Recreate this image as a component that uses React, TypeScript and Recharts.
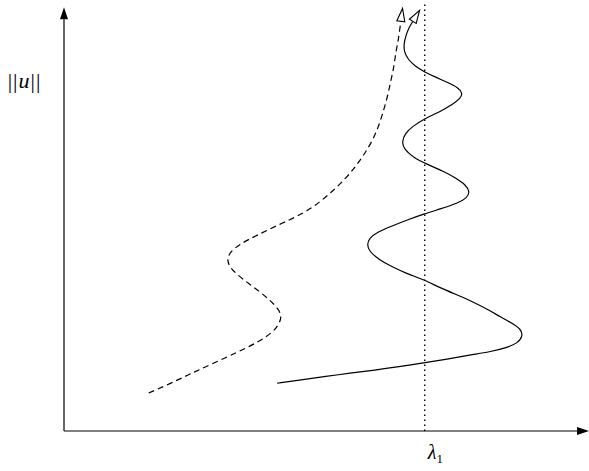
import React from 'react';
import { LineChart, Line, XAxis, YAxis, ReferenceLine } from 'recharts';

// parameter value where the vertical dotted line sits
const lambda1 = 6.94;

// solid branch, read from bottom to top
const solidLambda = [
    4.1, 4.56, 5.04, 5.5, 5.98, 6.44, 6.92, 7.37, 7.81, 8.19, 8.52, 8.73, 8.83, 8.79,
    8.62, 8.38, 8.19, 7.81, 7.52, 7.23, 6.92, 6.62, 6.31, 6.04, 5.87, 5.83, 5.87,
    6.02, 6.31, 6.62, 6.92, 7.23, 7.58, 7.75, 7.81, 7.73, 7.54, 7.29, 6.98, 6.71, 6.54,
    6.5, 6.56, 6.71, 6.94, 7.23, 7.48, 7.63, 7.67, 7.58, 7.37, 7.15, 6.94, 6.75, 6.62,
    6.54, 6.54, 6.58, 6.63, 6.71,
];
const solidNorm = [
    1.13, 1.21, 1.29, 1.37, 1.44, 1.52, 1.61, 1.7, 1.8, 1.87, 1.97, 2.08, 2.25, 2.41,
    2.55, 2.71, 2.85, 3.09, 3.24, 3.39, 3.58, 3.71, 3.88, 4.07, 4.26, 4.4, 4.56,
    4.7, 4.85, 5.0, 5.13, 5.25, 5.39, 5.51, 5.66, 5.82, 5.98, 6.15, 6.31, 6.48, 6.67,
    6.84, 7.04, 7.21, 7.39, 7.55, 7.73, 7.87, 7.99, 8.13, 8.25, 8.37, 8.49, 8.63, 8.79,
    8.97, 9.17, 9.36, 9.53, 9.69,
];

// dashed branch
const dashedLambda = [
    1.63, 2.06, 2.46, 2.87, 3.35, 3.73, 4.0, 4.13, 4.19, 4.13, 3.96, 3.73, 3.44, 3.21,
    3.13, 3.19, 3.38, 3.71, 4.15, 4.6, 4.92, 5.19, 5.44, 5.63, 5.79, 5.94, 6.06, 6.15,
    6.23, 6.29, 6.35, 6.38, 6.42, 6.45, 6.48,
];
const dashedNorm = [
    0.9, 1.13, 1.37, 1.6, 1.87, 2.1, 2.32, 2.51, 2.7, 2.88, 3.1, 3.33, 3.59, 3.83,
    4.04, 4.23, 4.42, 4.63, 4.89, 5.14, 5.41, 5.7, 6.0, 6.29, 6.57, 6.88, 7.23, 7.59,
    7.94, 8.3, 8.63, 8.94, 9.17, 9.41, 9.69,
];

const axisEnd = { x: 9.87, y: 9.74 };

const toPoints = (xs: number[], ys: number[]) => xs.map((x, i) => ({ x, y: ys[i] }));

const solidData = toPoints(solidLambda, solidNorm);
const dashedData = toPoints(dashedLambda, dashedNorm);

const serif = "'Liberation Serif', 'DejaVu Serif', serif";

const LambdaTick = (props: any) => {
    const { x, y } = props;
    return (
        <text x={x + 3} y={y + 20} fontFamily={serif} fontSize={20} fill="#000">
            <tspan fontStyle="italic">λ</tspan>
            <tspan fontSize={13} dy={4}>1</tspan>
        </text>
    );
};

const NormLabel = () => (
    <text x={24} y={88} textAnchor="middle" fontFamily={serif} fontSize={22} fill="#000">
        <tspan>|</tspan>
        <tspan dx={1}>|</tspan>
        <tspan fontStyle="italic" dx={1}>u</tspan>
        <tspan dx={1}>|</tspan>
        <tspan dx={1}>|</tspan>
    </text>
);

export default function App() {
    return (
        <div style={{ position: 'absolute', left: 0, top: 0, background: '#fff' }}>
            <LineChart width={589} height={471} margin={{ top: 4, right: 0, left: 0, bottom: 0 }}>
                <defs>
                    <marker id="openArrow" markerUnits="userSpaceOnUse" markerWidth={16} markerHeight={12} refX={0} refY={5} orient="auto" style={{ overflow: 'visible' }}>
                        <path d="M0,1 L13,5 L0,9 Z" fill="#fff" stroke="#000" strokeWidth={1.1} />
                    </marker>
                    <marker id="solidArrow" markerUnits="userSpaceOnUse" markerWidth={14} markerHeight={10} refX={0} refY={4} orient="auto" style={{ overflow: 'visible' }}>
                        <path d="M0,0 L12,4 L0,8 Z" fill="#000" />
                    </marker>
                </defs>
                <XAxis
                    type="number"
                    dataKey="x"
                    domain={[0, 10.1]}
                    allowDataOverflow
                    ticks={[lambda1]}
                    tick={<LambdaTick />}
                    axisLine={false}
                    tickLine={false}
                    height={40}
                />
                <YAxis
                    type="number"
                    domain={[0, 10.1]}
                    allowDataOverflow
                    width={64}
                    axisLine={false}
                    tickLine={false}
                    tick={false}
                    label={{ content: <NormLabel /> }}
                />
                <ReferenceLine
                    segment={[{ x: 0, y: 0 }, { x: axisEnd.x, y: 0 }]}
                    stroke="#000"
                    strokeWidth={1.2}
                    markerEnd="url(#solidArrow)"
                    ifOverflow="visible"
                />
                <ReferenceLine
                    segment={[{ x: 0, y: 0 }, { x: 0, y: axisEnd.y }]}
                    stroke="#000"
                    strokeWidth={1.2}
                    markerEnd="url(#solidArrow)"
                    ifOverflow="visible"
                />
                <ReferenceLine x={lambda1} stroke="#000" strokeWidth={1.4} strokeDasharray="1.4 3.6" ifOverflow="visible" />
                <Line
                    data={dashedData}
                    dataKey="y"
                    type="basis"
                    dot={false}
                    stroke="#000"
                    strokeWidth={1.2}
                    strokeDasharray="6 4"
                    markerEnd="url(#openArrow)"
                    isAnimationActive={false}
                />
                <Line
                    data={solidData}
                    dataKey="y"
                    type="basis"
                    dot={false}
                    stroke="#000"
                    strokeWidth={1.2}
                    markerEnd="url(#openArrow)"
                    isAnimationActive={false}
                />
            </LineChart>
        </div>
    );
}
